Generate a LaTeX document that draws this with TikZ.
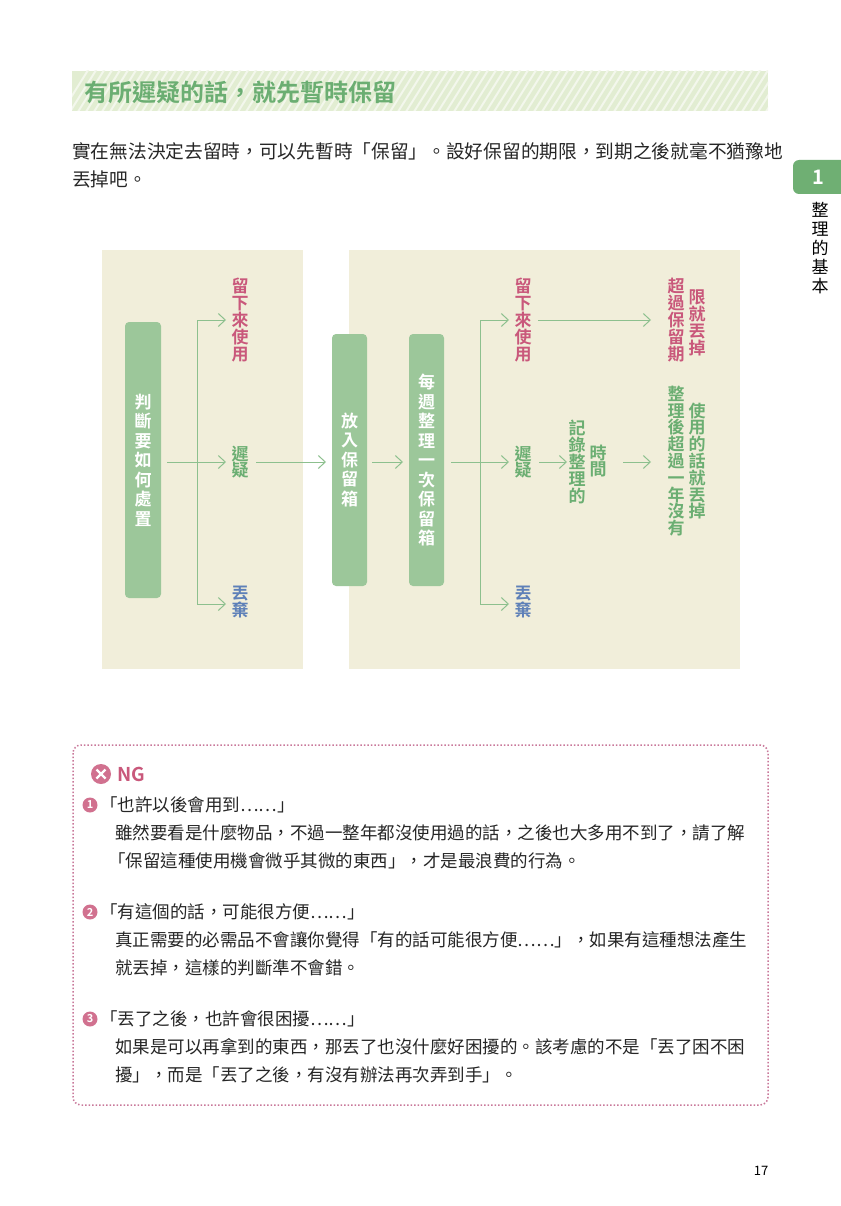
\documentclass[tikz,border=0pt]{standalone}
\usepackage{fontspec}
\setmainfont{Noto Sans CJK TC}[BoldFont={Noto Sans CJK TC Bold}]
\usetikzlibrary{arrows.meta}
\definecolor{gbar}{HTML}{9CC79A}
\definecolor{gline}{HTML}{8DC08E}
\definecolor{gtext}{HTML}{6BAE72}
\definecolor{ptext}{HTML}{C9587B}
\definecolor{btext}{HTML}{5E80B8}
\definecolor{panel}{HTML}{F1EEDA}
\definecolor{hdr}{HTML}{E2EDD2}
\definecolor{hdrs}{HTML}{F3F7EC}
\definecolor{pinkd}{HTML}{C9789A}
\definecolor{tabg}{HTML}{6FAF73}
\tikzset{
  x=1pt,y=-1pt,
  gbox/.style={fill=gbar,rounded corners=4pt,text=white,font=\bfseries\fontsize{17}{19.5}\selectfont,align=center,inner sep=0pt},
  vlab/.style={font=\bfseries\fontsize{17}{16.8}\selectfont,align=center,inner sep=0pt},
  arr/.style={draw=gline,line width=1pt,-{Straight Barb[length=7pt,width=13pt]}},
  ln/.style={draw=gline,line width=1pt},
  body/.style={anchor=west,inner sep=0pt,font=\fontsize{17.5}{20}\selectfont,text=black!85},
  num/.style={circle,fill=ptext!85,text=white,inner sep=0pt,minimum size=15pt,font=\bfseries\fontsize{11}{11}\selectfont}
}
\begin{document}
\begin{tikzpicture}
\useasboundingbox (0,0) rectangle (840,1206);
\fill[white] (0,0) rectangle (840,1206);
% header
\fill[hdr] (72,71) rectangle (768,111);
\begin{scope}
\clip (72,71) rectangle (768,111);
\foreach \i in {0,8,...,760} \draw[hdrs,line width=2pt] (60+\i,115) -- (90+\i,67);
\end{scope}
\node[anchor=west,inner sep=0pt,text=gtext,font=\bfseries\fontsize{24}{24}\selectfont] (title) at (84,92) {有所遲疑的話，就先暫時保留};
\node[body,font=\fontsize{18.7}{20}\selectfont] (p1) at (72,151) {實在無法決定去留時，可以先暫時「保留」。設好保留的期限，到期之後就毫不猶豫地};
\node[body,font=\fontsize{18.7}{20}\selectfont] (p2) at (72,179) {丟掉吧。};
% side tab
\fill[tabg,rounded corners=6pt] (793,160) rectangle (850,194);
\node[text=white,font=\bfseries\fontsize{20}{20}\selectfont] (tab) at (818,177) {1};
\node[align=center,inner sep=0pt,font=\fontsize{17}{19}\selectfont] (side) at (820,248) {整\\理\\的\\基\\本};
% panels
\fill[panel] (102,250) rectangle (303,669);
\fill[panel] (349,250) rectangle (740,669);
% boxes
\node[gbox,minimum width=36pt,minimum height=276pt] (b1) at (143,460) {判\\斷\\要\\如\\何\\處\\置};
\node[gbox,minimum width=35pt,minimum height=252pt] (b2) at (349.5,460) {放\\入\\保\\留\\箱};
\node[gbox,minimum width=35pt,minimum height=252pt] (b3) at (426.5,460) {每\\週\\整\\理\\一\\次\\保\\留\\箱};
% labels left
\node[vlab,text=ptext] (l1) at (240,320) {留\\下\\來\\使\\用};
\node[vlab,text=gtext] (l2) at (240,462) {遲\\疑};
\node[vlab,text=btext] (l3) at (240,602) {丟\\棄};
% labels right
\node[vlab,text=ptext] (r1) at (523,320) {留\\下\\來\\使\\用};
\node[vlab,text=gtext] (r2) at (523,462) {遲\\疑};
\node[vlab,text=btext] (r3) at (523,602) {丟\\棄};
\node[vlab,text=ptext] (e1) at (676,320) {超\\過\\保\\留\\期};
\node[vlab,text=ptext] (e2) at (697,323) {限\\就\\丟\\掉};
\node[vlab,text=gtext] (m1) at (577,462) {記\\錄\\整\\理\\的};
\node[vlab,text=gtext] (m2) at (598,461) {時\\間};
\node[vlab,text=gtext] (f1) at (676,461) {整\\理\\後\\超\\過\\一\\年\\沒\\有};
\node[vlab,text=gtext] (f2) at (697,461) {使\\用\\的\\話\\就\\丟\\掉};
% connectors
\draw[ln] (b1.east |- 0,462) ++(6,0) -- (197,462);
\draw[ln] (197,320) -- (197,604);
\draw[arr] (197,320) -- (226,320);
\draw[arr] (197,462) -- (226,462);
\draw[arr] (197,604) -- (226,604);
\draw[arr] (256,462) -- (326,462);
\draw[arr] (372,462) -- (403,462);
\draw[ln] (b3.east |- 0,462) ++(7,0) -- (480,462);
\draw[ln] (480,320) -- (480,604);
\draw[arr] (480,320) -- (509,320);
\draw[arr] (480,462) -- (509,462);
\draw[arr] (480,604) -- (509,604);
\draw[arr] (538,320) -- (651,320);
\draw[arr] (539,462) -- (567,462);
\draw[arr] (623,462) -- (651,462);
% NG box
\draw[pinkd,line width=1.5pt,dotted,rounded corners=8pt] (73,745) rectangle (768,1105);
\node[circle,fill=ptext!85,inner sep=0pt,minimum size=20pt] (ngc) at (101,774) {};
\draw[white,line width=2.2pt] (ngc.center) ++(-4.5,-4.5) -- ++(9,9) (ngc.center) ++(4.5,-4.5) -- ++(-9,9);
\node[anchor=west,inner sep=0pt,text=ptext,font=\bfseries\fontsize{19}{19}\selectfont] (ng) at (117,774) {NG};
\node[num] (n1) at (90,805) {1};
\node[body] (t1) at (100,805) {「也許以後會用到……」};
\node[body] (t1a) at (115,833) {雖然要看是什麼物品，不過一整年都沒使用過的話，之後也大多用不到了，請了解};
\node[body] (t1b) at (108,861) {「保留這種使用機會微乎其微的東西」，才是最浪費的行為。};
\node[num] (n2) at (90,912) {2};
\node[body] (t2) at (100,912) {「有這個的話，可能很方便……」};
\node[body] (t2a) at (115,940) {真正需要的必需品不會讓你覺得「有的話可能很方便……」，如果有這種想法產生};
\node[body] (t2b) at (115,968) {就丟掉，這樣的判斷準不會錯。};
\node[num] (n3) at (90,1019) {3};
\node[body] (t3) at (100,1019) {「丟了之後，也許會很困擾……」};
\node[body] (t3a) at (115,1047) {如果是可以再拿到的東西，那丟了也沒什麼好困擾的。該考慮的不是「丟了困不困};
\node[body] (t3b) at (115,1075) {擾」，而是「丟了之後，有沒有辦法再次弄到手」。};
\node[inner sep=0pt,font=\fontsize{13}{13}\selectfont] (pg) at (761,1171) {17};
\end{tikzpicture}
\end{document}
